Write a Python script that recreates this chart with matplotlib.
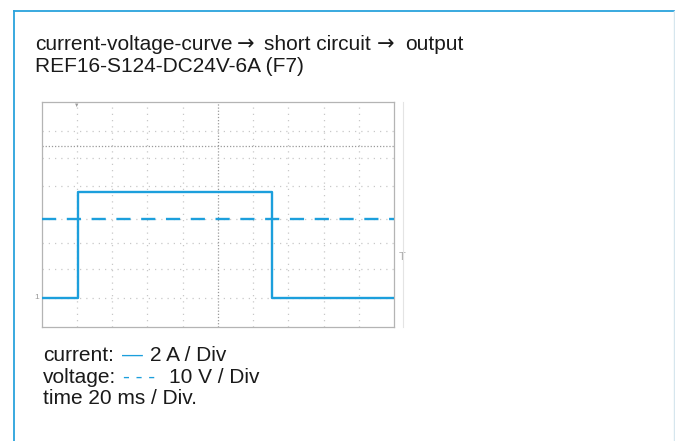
import matplotlib
matplotlib.use('Agg')
import matplotlib.pyplot as plt
from matplotlib.lines import Line2D

plt.rcParams['font.family'] = ['Liberation Sans', 'DejaVu Sans']

# =========================================================
# DADOS (lidos do oscilograma)
# =========================================================
time_ms = [0, 20.8, 20.8, 131, 131, 200]          # eixo x, 20 ms / div
current_A = [0, 0, 7.54, 7.54, 0, 0]               # 2 A / div
current_zero_div = 1.04                            # marcador "1" do canal
current_A_per_div = 2
voltage_time_ms = [0, 200]
voltage_div = [3.85, 3.85]                         # nível da tensão (div)
grid_x_ms = [20, 40, 60, 80, 100, 120, 140, 160, 180]
grid_y_div = [1.04, 2.06, 2.99, 3.85, 5.03, 6.02, 6.97]
ref_line_div = 6.42

BLUE = '#1c9fdc'
DARK = '#1a1a1a'
FS = 15
W, H = 675, 441

# texto em partes: (x em px, texto, cor, família)
title_1 = [(35, 'current-voltage-curve', DARK, None), (237, '\u2192', DARK, 'DejaVu Sans'),
           (264, 'short circuit', DARK, None), (377, '\u2192', DARK, 'DejaVu Sans'),
           (405, 'output', DARK, None)]
title_2 = [(35, 'REF16-S124-DC24V-6A (F7)', DARK, None)]
legend_1 = [(43, 'current:', DARK, None), (122, '\u2014', BLUE, None), (150, '2 A / Div', DARK, None)]
legend_2 = [(43, 'voltage:', DARK, None), (123, '- - -', BLUE, None), (169, '10 V / Div', DARK, None)]
legend_3 = [(43, 'time 20 ms / Div.', DARK, None)]


def fx(px):
    return px / W


def fy(py):
    return 1 - py / H


fig = plt.figure(figsize=(W / 100, H / 100), dpi=100)


def write_runs(y_px, runs):
    for x, txt, color, family in runs:
        kw = {'family': family} if family else {}
        fig.text(fx(x), fy(y_px), txt, fontsize=FS, va='center', color=color, **kw)


# moldura externa azul
fig.add_artist(Line2D([fx(14.5), fx(14.5)], [fy(441), fy(11)], color='#2aa3dc', lw=1.3))
fig.add_artist(Line2D([fx(14.5), fx(675)], [fy(11), fy(11)], color='#2aa3dc', lw=1.3))
fig.add_artist(Line2D([fx(674), fx(674)], [fy(441), fy(11)], color='#d6e6ee', lw=1.0))

# título
write_runs(44.5, title_1)
write_runs(66.5, title_2)

# =========================================================
# OSCILOGRAMA
# =========================================================
ax = fig.add_axes([fx(41.5), fy(327), (394 - 41.5) / W, (327 - 102) / H])
ax.set_xlim(0, 200)
ax.set_ylim(0, 8)

for x in grid_x_ms:
    center = x == 100
    ax.axvline(x, color='#9a9a9a' if center else '#c8c8c8', lw=0.9,
               ls=(0, (1, 1.5)) if center else (0, (1, 4)), zorder=1)
for y in grid_y_div:
    ax.axhline(y, color='#c8c8c8', lw=0.9, ls=(0, (1, 4)), zorder=1)
ax.axhline(ref_line_div, color='#9a9a9a', lw=0.9, ls=(0, (1, 1.5)), zorder=1)

current_div = [current_zero_div + i / current_A_per_div for i in current_A]
ax.plot(time_ms, current_div, color=BLUE, lw=1.7, zorder=3)
ax.plot(voltage_time_ms, voltage_div, color=BLUE, lw=1.7, ls=(0, (6, 4.5)), zorder=3)

ax.set_xticks([])
ax.set_yticks([])
for s in ax.spines.values():
    s.set_color('#b4b4b4')
    s.set_linewidth(0.9)

# marcadores do osciloscópio
ax.text(-1.5, current_zero_div, '1', fontsize=6, color='#9a9a9a', ha='right', va='center')
ax.text(202.5, 2.5, 'T', fontsize=8, color='#aaaaaa', ha='left', va='center')
ax.text(20, 7.97, '\u25bc', fontsize=4, color='#9a9a9a', ha='center', va='top')
fig.add_artist(Line2D([fx(403), fx(403)], [fy(327), fy(102)], color='#e4e4e4', lw=0.8))

# =========================================================
# LEGENDA
# =========================================================
write_runs(355.5, legend_1)
write_runs(377.5, legend_2)
write_runs(399, legend_3)

fig.savefig('out.png', dpi=100)
